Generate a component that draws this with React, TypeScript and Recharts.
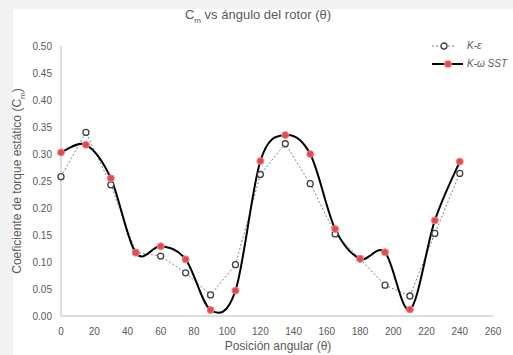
import React from "react"
import { CartesianGrid, Line, LineChart, XAxis, YAxis } from "recharts"

const angles = [0, 15, 30, 45, 60, 75, 90, 105, 120, 135, 150, 165, 180, 195, 210, 225, 240]
const kEpsilon = [0.258, 0.34, 0.243, 0.118, 0.111, 0.08, 0.039, 0.095, 0.262, 0.319, 0.245, 0.152, 0.106, 0.057, 0.037, 0.153, 0.264]
const kOmegaSST = [0.303, 0.317, 0.255, 0.117, 0.129, 0.105, 0.011, 0.047, 0.287, 0.335, 0.3, 0.161, 0.106, 0.118, 0.012, 0.177, 0.286]
const xTicks = [0, 20, 40, 60, 80, 100, 120, 140, 160, 180, 200, 220, 240, 260]
const yTicks = [0, 0.05, 0.1, 0.15, 0.2, 0.25, 0.3, 0.35, 0.4, 0.45, 0.5]

const data = angles.map((a, i) => ({ angle: a, ke: kEpsilon[i], kw: kOmegaSST[i] }))

const FONT = '"Liberation Sans", Arial, sans-serif'
const GREY_TEXT = "#595959"

// excel-style smoothed line (catmull-rom through the points)
const excelSmooth = (context: any) => {
  let pts: number[][] = []
  return {
    areaStart() {},
    areaEnd() {},
    lineStart() {
      pts = []
    },
    point(x: number, y: number) {
      pts.push([+x, +y])
    },
    lineEnd() {
      if (!pts.length) return
      context.moveTo(pts[0][0], pts[0][1])
      for (let i = 0; i < pts.length - 1; i++) {
        const p0 = pts[Math.max(i - 1, 0)]
        const p1 = pts[i]
        const p2 = pts[i + 1]
        const p3 = pts[Math.min(i + 2, pts.length - 1)]
        context.bezierCurveTo(
          p1[0] + (p2[0] - p0[0]) / 6,
          p1[1] + (p2[1] - p0[1]) / 6,
          p2[0] - (p3[0] - p1[0]) / 6,
          p2[1] - (p3[1] - p1[1]) / 6,
          p2[0],
          p2[1]
        )
      }
    },
  }
}

const tickStyle = { fontSize: 10, fill: GREY_TEXT, fontFamily: FONT }

export default function App() {
  return (
    <div style={{ position: "absolute", left: 0, top: 0, width: 513, height: 355, background: "#f2f2f2", fontFamily: FONT }}>
      <div style={{ position: "absolute", left: 13, top: 9, width: 500, height: 346, background: "#fff" }} />

      <div style={{ position: "absolute", left: 0, width: 516, top: 7, textAlign: "center", fontSize: 13, color: GREY_TEXT, lineHeight: "16px" }}>
        C<sub style={{ fontSize: 8 }}>m</sub> vs ángulo del rotor (θ)
      </div>

      <div
        style={{
          position: "absolute",
          left: 20,
          top: 181,
          transform: "translate(-50%, -50%) rotate(-90deg)",
          whiteSpace: "nowrap",
          fontSize: 12,
          lineHeight: "14px",
          color: GREY_TEXT,
        }}
      >
        Coeficiente de torque estático (C<sub style={{ fontSize: 8 }}>m</sub>)
      </div>

      <div style={{ position: "absolute", left: 0, width: 556, top: 339, textAlign: "center", fontSize: 12, lineHeight: "14px", color: GREY_TEXT }}>
        Posición angular (θ)
      </div>

      <div style={{ position: "absolute", left: 430, top: 37, fontSize: 10, fontStyle: "italic", color: GREY_TEXT }}>
        <div style={{ display: "flex", alignItems: "center", height: 17 }}>
          <svg width={34} height={10}>
            <line x1={2} y1={5} x2={26} y2={5} stroke="#7f7f7f" strokeWidth={1} strokeDasharray="2 2" />
            <circle cx={14} cy={5} r={3} fill="#fff" stroke="#404040" strokeWidth={1.3} />
          </svg>
          <span style={{ marginLeft: 3 }}>K-ε</span>
        </div>
        <div style={{ display: "flex", alignItems: "center", height: 19 }}>
          <svg width={34} height={10}>
            <line x1={2} y1={5} x2={33} y2={5} stroke="#000" strokeWidth={2} />
            <circle cx={18} cy={5} r={3.5} fill="#e5484d" stroke="#f08a8a" strokeWidth={1} />
          </svg>
          <span style={{ marginLeft: 3 }}>K-ω SST</span>
        </div>
      </div>

      <div style={{ position: "absolute", left: 0, top: 0 }}>
        <LineChart width={513} height={355} data={data} margin={{ top: 46, right: 20, bottom: 14, left: 13 }}>
          <CartesianGrid stroke="none" />
          <XAxis
            dataKey="angle"
            type="number"
            domain={[0, 260]}
            ticks={xTicks}
            tickLine={false}
            tickSize={0}
            tickMargin={12}
            axisLine={{ stroke: "#d0d0d0", strokeWidth: 1.5 }}
            tick={tickStyle}
            height={25}
            interval={0}
          />
          <YAxis
            type="number"
            domain={[0, 0.5]}
            ticks={yTicks}
            tickFormatter={(v: number) => v.toFixed(2)}
            tickLine={false}
            tickSize={0}
            tickMargin={9}
            axisLine={{ stroke: "#d0d0d0", strokeWidth: 1.5 }}
            tick={tickStyle}
            width={48}
            interval={0}
          />
          <Line
            dataKey="ke"
            type="linear"
            stroke="#7f7f7f"
            strokeWidth={1}
            strokeDasharray="2 2"
            dot={{ r: 3, fill: "#fff", stroke: "#404040", strokeWidth: 1.3, strokeDasharray: "0" }}
            isAnimationActive={false}
          />
          <Line
            dataKey="kw"
            type={excelSmooth as any}
            stroke="#000"
            strokeWidth={2}
            dot={{ r: 3.5, fill: "#e5484d", stroke: "#f08a8a", strokeWidth: 1 }}
            isAnimationActive={false}
          />
        </LineChart>
      </div>
    </div>
  )
}
